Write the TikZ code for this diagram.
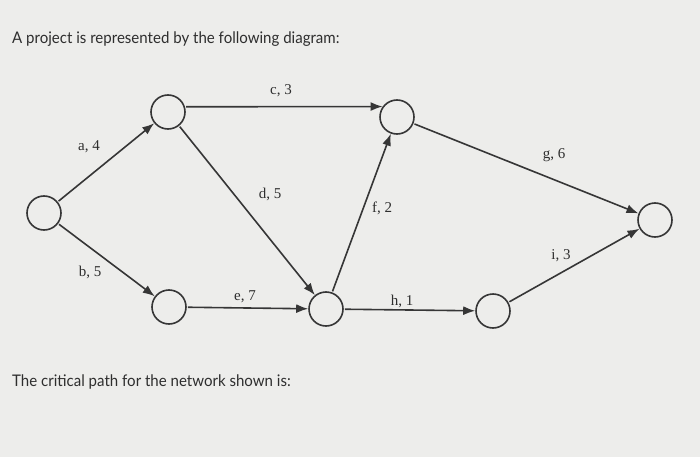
\documentclass[tikz,border=0pt]{standalone}
\usepackage{fontspec}
\setmainfont{Liberation Serif}
\newfontfamily\promptfont[FakeStretch=0.94]{Lato}
\usetikzlibrary{arrows.meta}
\definecolor{QBack}{HTML}{EDEDEB}
\definecolor{QLine}{HTML}{363636}
\definecolor{QText}{HTML}{2E2E2E}
\begin{document}
\begin{tikzpicture}[
    x=1pt, y=-1pt,
    event/.style={circle, draw=QLine, line width=1.6pt, minimum size=34pt, inner sep=0pt},
    act/.style={-{Latex[length=12pt,width=9pt]}, line width=1.6pt, draw=QLine, shorten <=1pt},
    lbl/.style={font=\fontsize{15}{17}\selectfont, text=QText, inner sep=0pt},
    prompt/.style={font=\promptfont\fontsize{16}{19}\selectfont, text=QText, anchor=base west, inner sep=0pt}
  ]
    \fill[QBack] (0,0) rectangle (700,457);
    \useasboundingbox (0,0) rectangle (700,457);

    \node[prompt] (head) at (12,44) {A project is represented by the following diagram:};
    \node[prompt] (foot) at (12,386) {The critical path for the network shown is:};

    \node[event] (start) at (44,213) {};
    \node[event] (top1) at (168,112) {};
    \node[event] (top2) at (397,117) {};
    \node[event] (low1) at (169,307) {};
    \node[event] (mid) at (326,309) {};
    \node[event] (low2) at (493,311) {};
    \node[event] (finish) at (655,220) {};

    \draw[act] (start) -- (top1);
    \draw[act] (start) -- (low1);
    \draw[act] (top1.17) -- (top2.144);
    \draw[act] (top1) -- (mid);
    \draw[act] (low1) -- (mid);
    \draw[act] (mid) -- (top2);
    \draw[act] (top2) -- (finish);
    \draw[act] (mid) -- (low2);
    \draw[act] (low2) -- (finish);

    \node[lbl] (la) at (89,147) {a, 4};
    \node[lbl] (lb) at (90,272) {b, 5};
    \node[lbl] (lc) at (281,91) {c, 3};
    \node[lbl] (ld) at (270,194) {d, 5};
    \node[lbl] (le) at (245,297) {e, 7};
    \node[lbl] (lf) at (382,208) {f, 2};
    \node[lbl] (lg) at (554,155) {g, 6};
    \node[lbl] (lh) at (402,301) {h, 1};
    \node[lbl] (li) at (561,256) {i, 3};
  \end{tikzpicture}
\end{document}
